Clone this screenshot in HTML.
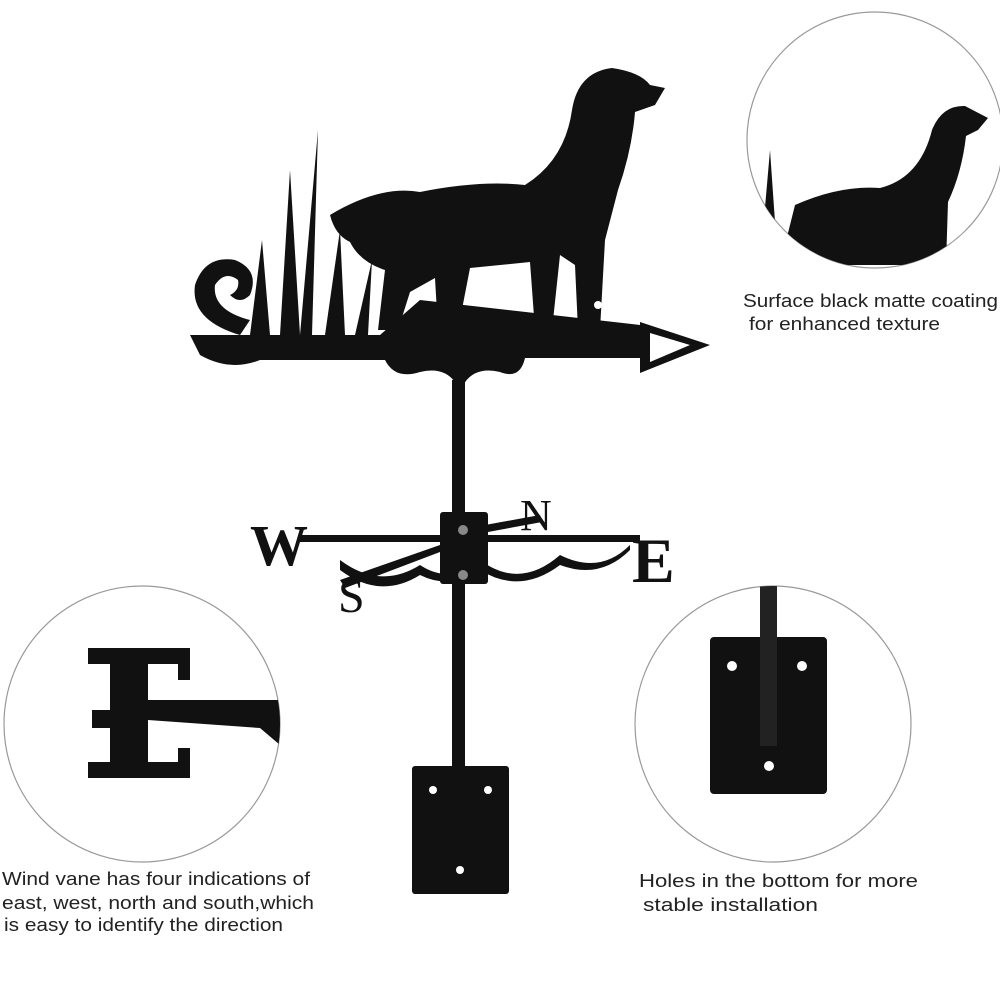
<!DOCTYPE html>
<html><head><style>
body{margin:0;background:#fff;}
svg{display:block}
.t{font-family:"Liberation Sans",sans-serif;fill:#222;font-size:18.5px}
</style></head><body>
<svg width="1000" height="1000" viewBox="0 0 1000 1000">
<defs>
<clipPath id="c1"><circle cx="875" cy="140" r="128"/></clipPath>
<clipPath id="c2"><circle cx="142" cy="724" r="138"/></clipPath>
<clipPath id="c3"><circle cx="773" cy="724" r="138"/></clipPath>
</defs>
<circle cx="875" cy="140" r="128" fill="none" stroke="#999" stroke-width="1.2"/>
<circle cx="142" cy="724" r="138" fill="none" stroke="#999" stroke-width="1.2"/>
<circle cx="773" cy="724" r="138" fill="none" stroke="#999" stroke-width="1.2"/>

<g fill="#111">
<rect x="452" y="380" width="13" height="390"/>
<rect x="412" y="766" width="97" height="128" rx="3"/>
<path d="M190 335 L640 335 L640 322 L710 345 L640 373 L640 358 L525 358 Q520 380 500 372 Q470 365 460 392 Q450 365 420 372 Q395 380 385 360 L260 360 Q230 372 200 355 Z"/>
<path d="M240 335 Q190 320 195 285 Q205 255 235 260 Q260 270 250 295 Q240 305 230 295 Q240 290 238 280 Q225 270 215 285 Q212 310 250 320 Z"/>
<path d="M250 335 L262 240 L270 335 Z M280 335 L290 170 L300 335 Z M300 335 L318 130 L312 335 Z M325 335 L340 230 L345 335 Z M355 335 L372 260 L368 335 Z M380 335 L420 300 L640 325 L640 335 Z"/>
<path d="M330 215 Q380 185 420 192 Q480 180 525 185 Q565 160 572 110 Q578 72 612 68 Q640 72 650 85 L665 88 L655 105 L635 112 Q632 150 618 190 L605 240 L600 330 L578 330 L575 265 L560 255 L552 330 L535 330 L530 262 L470 268 L458 330 L438 330 L435 278 L410 292 L398 330 L378 330 L385 270 Q360 262 350 242 Q335 235 330 215 Z"/>
<rect x="300" y="535" width="340" height="7"/>
<rect x="440" y="512" width="48" height="72" rx="3"/>
<path d="M485 525 L540 515 L542 522 L488 532 Z M340 580 L440 545 L440 552 L345 588 Z"/>
<path d="M340 560 Q380 590 420 565 Q450 585 480 560 Q520 590 560 555 Q600 575 630 545 L630 550 Q600 580 560 565 Q520 595 480 570 Q450 590 420 575 Q380 600 340 570 Z"/>
</g>
<g fill="#fff"><circle cx="433" cy="790" r="4"/><circle cx="488" cy="790" r="4"/><circle cx="460" cy="870" r="4"/>
<path d="M650 333 L690 345 L650 362 Z"/>
<circle cx="508" cy="295" r="5"/><circle cx="598" cy="305" r="4"/>
</g>
<circle cx="463" cy="530" r="5" fill="#888"/><circle cx="463" cy="575" r="5" fill="#888"/>
<text x="250" y="565" style="font-family:'Liberation Serif',serif;fill:#111;font-size:58px;font-weight:bold">W</text>
<text x="632" y="582" style="font-family:'Liberation Serif',serif;fill:#111;font-size:64px;font-weight:bold">E</text>
<text x="338" y="612" style="font-family:'Liberation Serif',serif;fill:#111;font-size:48px">S</text>
<text x="520" y="530" style="font-family:'Liberation Serif',serif;fill:#111;font-size:44px">N</text>

<g fill="#111" clip-path="url(#c1)">
<path d="M780 265 L795 205 Q840 185 880 188 Q920 178 932 130 Q942 105 965 106 L988 118 L978 130 L966 136 Q962 172 948 202 L946 265 Z"/>
<path d="M760 265 L770 150 L778 265 Z M748 265 L755 200 L760 265 Z"/>
</g>

<g clip-path="url(#c2)">
<path fill="#111" d="M88 648 L190 648 L190 680 L178 680 L178 664 L148 664 L148 700 L280 700 L280 745 L260 728 L148 720 L148 762 L178 762 L178 748 L190 748 L190 778 L88 778 L88 762 L110 762 L110 728 L92 728 L92 710 L110 710 L110 664 L88 664 Z"/>
</g>

<g clip-path="url(#c3)">
<rect x="710" y="637" width="117" height="157" rx="4" fill="#111"/>
<rect x="760" y="586" width="17" height="160" fill="#222"/>
<circle cx="732" cy="666" r="5" fill="#fff"/><circle cx="802" cy="666" r="5" fill="#fff"/><circle cx="769" cy="766" r="5" fill="#fff"/>
</g>

<text class="t" x="743" y="307" textLength="255" lengthAdjust="spacingAndGlyphs">Surface black matte coating</text>
<text class="t" x="749" y="330" textLength="191" lengthAdjust="spacingAndGlyphs">for enhanced texture</text>
<text class="t" x="2" y="885" textLength="308" lengthAdjust="spacingAndGlyphs">Wind vane has four indications of</text>
<text class="t" x="2" y="909" textLength="312" lengthAdjust="spacingAndGlyphs">east, west, north and south,which</text>
<text class="t" x="4" y="931" textLength="279" lengthAdjust="spacingAndGlyphs">is easy to identify the direction</text>
<text class="t" x="639" y="887" textLength="279" lengthAdjust="spacingAndGlyphs">Holes in the bottom for more</text>
<text class="t" x="643" y="911" textLength="175" lengthAdjust="spacingAndGlyphs">stable installation</text>
</svg>
</body></html>
